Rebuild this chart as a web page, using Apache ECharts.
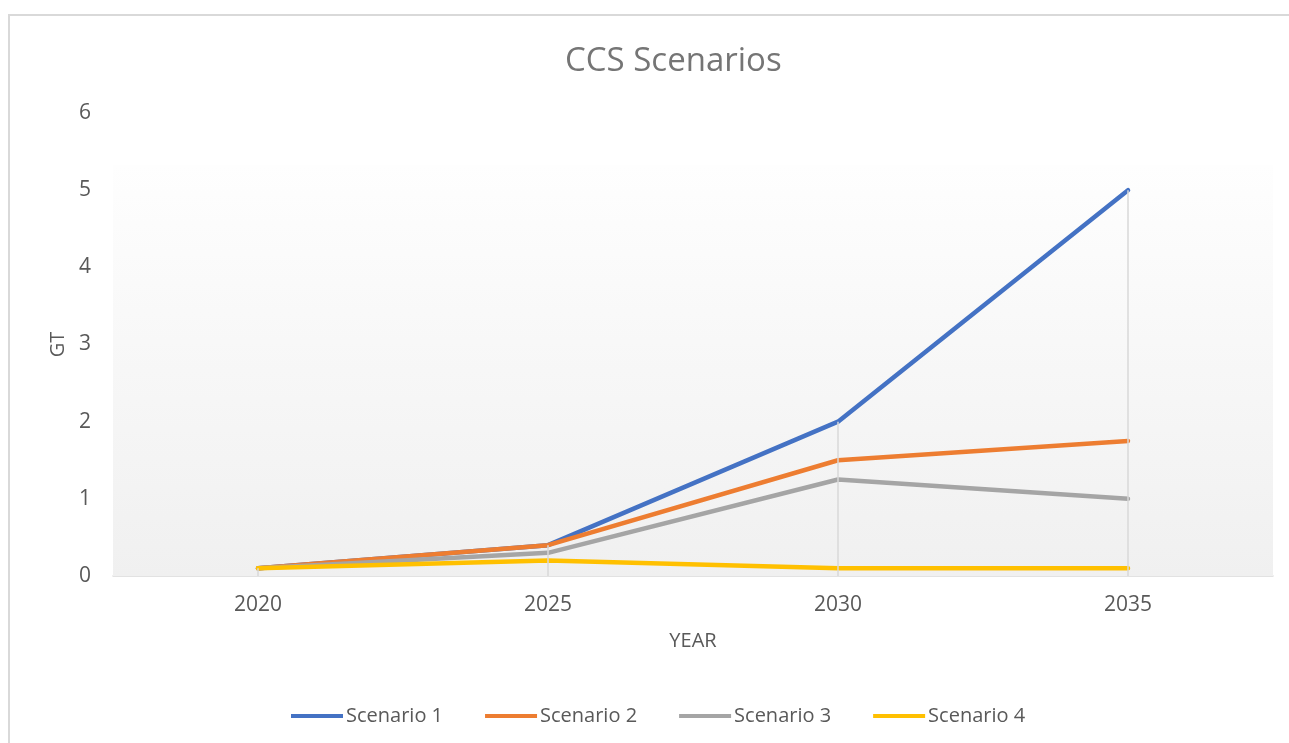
<!DOCTYPE html>
<html>
<head>
<meta charset="utf-8">
<script src="https://cdn.jsdelivr.net/npm/echarts@6/dist/echarts.min.js"></script>
<style>
  html, body { margin: 0; padding: 0; background: #fff; }
  #frame { position: absolute; left: 8px; top: 14px; width: 1300px; height: 760px;
           border-left: 2px solid #d9d9d9; border-top: 2px solid #d9d9d9; }
  #chart { position: absolute; left: 0; top: 0; width: 1289px; height: 743px; }
</style>
</head>
<body>
<div id="frame"></div>
<div id="chart"></div>
<script>
// data
var years = ['2020', '2025', '2030', '2035'];
var scenario1 = [0.1, 0.4, 2.0, 5.0];
var scenario2 = [0.1, 0.4, 1.5, 1.75];
var scenario3 = [0.1, 0.3, 1.25, 1.0];
var scenario4 = [0.1, 0.2, 0.1, 0.1];
var seriesNames = ['Scenario 1', 'Scenario 2', 'Scenario 3', 'Scenario 4'];
var colors = ['#4472C4', '#ED7D31', '#A5A5A5', '#FFC000'];

var chart = echarts.init(document.getElementById('chart'));
var all = [scenario1, scenario2, scenario3, scenario4];

// drop lines: from highest point of each year down to the axis
var dropLines = years.map(function (y, i) {
    var top = Math.max.apply(null, all.map(function (s) { return s[i]; }));
    return [{ coord: [i, top] }, { coord: [i, 0] }];
});

var series = all.map(function (vals, k) {
    return {
        name: seriesNames[k],
        type: 'line',
        data: vals,
        symbol: 'none',
        z: 3,
        itemStyle: { color: colors[k] },
        lineStyle: { color: colors[k], width: 4.5, cap: 'round', join: 'round' }
    };
});

// background panel + drop lines, drawn under the lines
series.unshift({
    name: 'bg',
    type: 'line',
    data: [],
    silent: true,
    z: 1,
    markArea: {
        silent: true,
        itemStyle: {
            color: new echarts.graphic.LinearGradient(0, 0, 0, 1, [
                { offset: 0, color: '#fefefe' },
                { offset: 1, color: '#f0f0f0' }
            ])
        },
        data: [[{ yAxis: 0 }, { yAxis: 5.33 }]]
    },
    markLine: {
        silent: true,
        symbol: 'none',
        label: { show: false },
        lineStyle: { color: '#d9d9d9', width: 1.5, type: 'solid' },
        data: dropLines
    }
});

var option = {
    animation: false,
    textStyle: { fontFamily: 'Open Sans' },
    title: {
        text: 'CCS Scenarios',
        left: 560,
        top: 40,
        textStyle: { color: '#757575', fontSize: 33, fontWeight: 'normal', fontFamily: 'Open Sans' }
    },
    legend: {
        data: seriesNames,
        left: 286,
        top: 701,
        icon: 'rect',
        itemWidth: 52,
        itemHeight: 4,
        itemGap: 42,
        textStyle: { color: '#595959', fontSize: 20, padding: [0, 0, 0, -2] }
    },
    grid: {
        left: 113,
        right: 16,
        top: 113,
        bottom: 167
    },
    xAxis: {
        type: 'category',
        data: years,
        boundaryGap: true,
        name: 'YEAR',
        nameLocation: 'middle',
        nameGap: 55,
        nameTextStyle: { color: '#595959', fontSize: 20 },
        axisLine: { lineStyle: { color: '#d9d9d9', width: 1.5 } },
        axisTick: { show: false },
        axisLabel: { color: '#595959', fontSize: 21, margin: 19 },
        splitLine: { show: false }
    },
    yAxis: {
        type: 'value',
        min: 0,
        max: 6,
        interval: 1,
        name: 'GT',
        nameLocation: 'middle',
        nameGap: 45,
        nameTextStyle: { color: '#595959', fontSize: 20 },
        axisLine: { show: false },
        axisTick: { show: false },
        axisLabel: { color: '#595959', fontSize: 21, margin: 22 },
        splitLine: { show: false }
    },
    series: series
};
chart.setOption(option);
</script>
</body>
</html>
